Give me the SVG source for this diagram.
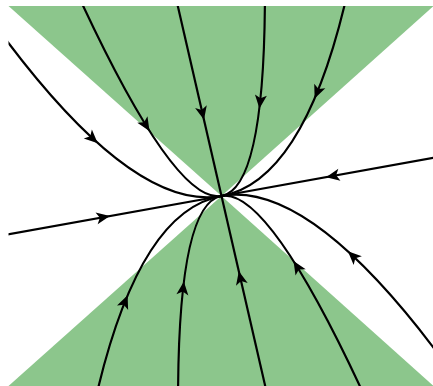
<svg xmlns="http://www.w3.org/2000/svg" xmlns:xlink="http://www.w3.org/1999/xlink" width="433" height="386" viewBox="0 0 433 386">
<style>
.region{fill:#8cc68c;stroke:none}
.traj{fill:none;stroke:#000;stroke-width:2.2;stroke-linecap:butt}
.ah{fill:#000;stroke:none}
</style>
<defs>
<clipPath id="box"><rect x="8.5" y="6" width="425" height="380"/></clipPath>
<path id="ah" class="ah" d="M7 0 L-6.5 -6 L-3.2 0 L-6.5 6 Z"/>
</defs>
<rect width="433" height="386" fill="#fff"/>
<g id="regions">
<polygon id="cone-top" class="region" points="8.5,6 433.5,6 221.5,196"/>
<polygon id="cone-bottom" class="region" points="8.5,386 433.5,386 221.5,196"/>
</g>
<g id="connectors" clip-path="url(#box)">
<path id="tA" class="traj" d="M-5.4 24.3 Q131.5 212.2 221.5 196"/>
<path id="tB" class="traj" d="M74.6 -12.5 Q174 204.55 221.5 196"/>
<path id="tC" class="traj" d="M175.5 -4 L221.5 196"/>
<path id="tD" class="traj" d="M264.9 -22.7 Q266.5 187.9 221.5 196"/>
<path id="tE" class="traj" d="M349.6 -16.7 Q306.5 180.7 221.5 196"/>
<path id="tL1" class="traj" d="M-10 237.7 L221.5 196"/>
<path id="tL2" class="traj" d="M440 156.7 L221.5 196"/>
<path id="tF" class="traj" d="M93.4 408.7 Q136.5 211.3 221.5 196"/>
<path id="tG" class="traj" d="M178.1 414.7 Q176.5 204.1 221.5 196"/>
<path id="tH" class="traj" d="M267.5 396 L221.5 196"/>
<path id="tI" class="traj" d="M368.4 404.5 Q269 187.45 221.5 196"/>
<path id="tJ" class="traj" d="M448.4 367.7 Q311.5 179.8 221.5 196"/>
</g>
<g id="arrows">
<use xlink:href="#ah" transform="translate(92.6,138.4) rotate(42.7)"/>
<use xlink:href="#ah" transform="translate(145.8,125) rotate(58.2)"/>
<use xlink:href="#ah" transform="translate(202.4,113) rotate(77)"/>
<use xlink:href="#ah" transform="translate(260.2,101.5) rotate(96.2)"/>
<use xlink:href="#ah" transform="translate(317.3,92) rotate(112.3)"/>
<use xlink:href="#ah" transform="translate(103,217.3) rotate(-10.2)"/>
<use xlink:href="#ah" transform="translate(333,175.9) rotate(169.8)"/>
<use xlink:href="#ah" transform="translate(125,301.7) rotate(-68)"/>
<use xlink:href="#ah" transform="translate(183.1,288.4) rotate(-83.6)"/>
<use xlink:href="#ah" transform="translate(240.4,278) rotate(-103)"/>
<use xlink:href="#ah" transform="translate(297.2,266.9) rotate(-121.8)"/>
<use xlink:href="#ah" transform="translate(353,256.1) rotate(-136.9)"/>
</g>
</svg>
